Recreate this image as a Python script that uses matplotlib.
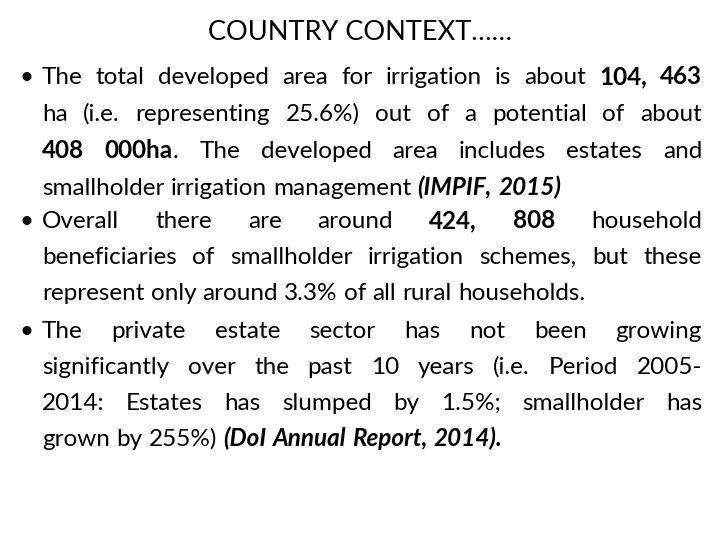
import matplotlib
matplotlib.use("Agg")
import matplotlib.pyplot as plt

title = "COUNTRY CONTEXT……"
# each line: (bullet, justified, runs) ; style: n normal, b bold, bi bold italic
lines = [
    (True, True, [("The total developed area for irrigation is about ", "n"), ("104, 463", "b")]),
    (False, True, [("ha (i.e. representing 25.6%) out of a potential of about", "n")]),
    (False, True, [("408 000ha", "b"), (". The developed area includes estates and", "n")]),
    (False, False, [("smallholder irrigation  management ", "n"), ("(IMPIF, 2015)", "bi")]),
    (True, True, [("Overall there are around ", "n"), ("424, 808", "b"), (" household", "n")]),
    (False, True, [("beneficiaries of smallholder irrigation schemes, but these", "n")]),
    (False, False, [("represent only around 3.3% of all rural households.", "n")]),
    (True, True, [("The private estate sector has not been growing", "n")]),
    (False, True, [("significantly over the past 10 years (i.e. Period 2005-", "n")]),
    (False, True, [("2014: Estates has slumped by 1.5%; smallholder has", "n")]),
    (False, False, [("grown by 255%) ", "n"), ("(DoI Annual Report, 2014).", "bi")]),
]
line_y = [77, 114, 151, 188, 221, 257, 293, 331, 367, 403, 439]

FONT = "Lato"
SIZE = 17.5
LEFT, RIGHT, BX = 42, 702, 20
styles = {"n": dict(weight="normal", style="normal"),
          "b": dict(weight="bold", style="normal"),
          "bi": dict(weight="bold", style="italic")}

fig = plt.figure(figsize=(7.2, 5.4), dpi=100)
ax = fig.add_axes([0, 0, 1, 1])
ax.set_xlim(0, 720); ax.set_ylim(540, 0); ax.axis("off")
r = fig.canvas.get_renderer()

def width(t):
    return t.get_window_extent(r).width

ax.text(360, 33, title, ha="center", va="center", fontsize=19.5, family=FONT, color="black")

h1 = ax.text(0, 0, "a a", fontsize=SIZE, family=FONT)
h2 = ax.text(0, 0, "aa", fontsize=SIZE, family=FONT)
spw = width(h1) - width(h2)
h1.remove(); h2.remove()

for (bullet, just, runs), y in zip(lines, line_y):
    yb = y + 7
    words = []
    for txt, st in runs:
        parts = txt.split(" ")
        for i, p in enumerate(parts):
            if i == 0 and words and not txt.startswith(" ") and words[-1] is not None:
                if p:
                    words[-1].append((p, st))
                continue
            if p == "":
                continue
            words.append([(p, st)])
        if txt.endswith(" "):
            words.append(None)
    words = [w for w in words if w]
    if bullet:
        ax.text(BX, yb, "•", fontsize=SIZE, family=FONT, va="baseline", ha="left")
    wtexts = []
    total = 0
    for w in words:
        ts = []
        for p, st in w:
            t = ax.text(0, yb, p, fontsize=SIZE, family=FONT, va="baseline", ha="left", **styles[st])
            ts.append(t)
        wtexts.append(ts)
        total += sum(width(t) for t in ts)
    gap = (RIGHT - LEFT - total) / (len(words) - 1) if just and len(words) > 1 else spw
    x = LEFT
    for ts in wtexts:
        for t in ts:
            t.set_x(x)
            x += width(t)
        x += gap

fig.savefig("out.png", dpi=100)
